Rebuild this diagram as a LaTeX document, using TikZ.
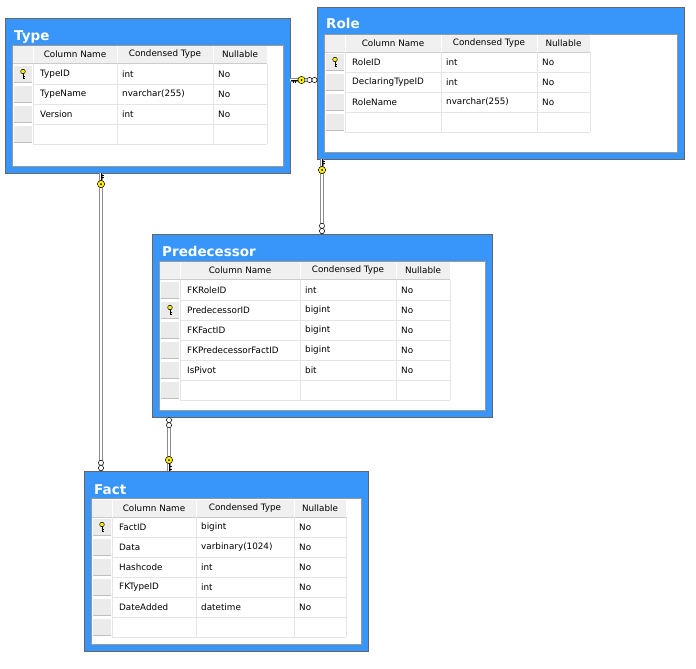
\documentclass[tikz,border=0pt]{standalone}
\usepackage{fontspec}
\setmainfont{DejaVu Sans}
\usetikzlibrary{calc}
\begin{document}
\begin{tikzpicture}[x=1pt,y=-1pt,
  tbl/.style={draw=black!60,fill=blueA,line width=0.8pt,anchor=north west,inner sep=0,outer sep=0},
  panel/.style={draw=black!40,fill=white,line width=0.8pt},
  cellline/.style={draw=black!10,line width=0.6pt},
  hdrfill/.style={fill=black!6},
  selfill/.style={fill=black!8},
  txt/.style={font=\fontsize{8.8}{9}\selectfont,inner sep=0,anchor=west},
  ttl/.style={font=\bfseries\fontsize{13.5}{14}\selectfont,text=white,inner sep=0,anchor=base west},
  connout/.style={draw=black!45,line width=3.2pt},
  connin/.style={draw=white,line width=1.4pt},
  ring/.style={draw=black,fill=white,line width=0.5pt},
  keyc/.style={draw=black,fill=yellow,line width=0.5pt}]
\definecolor{blueA}{RGB}{56,150,250}
\useasboundingbox (0,0) rectangle (696,669);
\newcommand\hdr[1]{%
  \fill[hdrfill] (\ca,#1) rectangle (\ce,#1+17);
  \draw[black!20] (\ca,#1+17)--(\ce,#1+17);
  \foreach \xx in {\cb,\cc,\cd,\ce} \draw[white,line width=1pt] (\xx,#1)--(\xx,#1+17);
  \node[txt,anchor=center] at ({(\cb+\cc)/2},#1+8.5) {Column Name};
  \node[txt,anchor=center] at ({(\cc+\cd)/2},#1+8.5) {Condensed Type};
  \node[txt,anchor=center] at ({(\cd+\ce)/2},#1+8.5) {Nullable};}
\newcommand\trow[5]{%
  \fill[selfill] (\ca+1,#1+2) rectangle (\cb-1,#1+18);
  \draw[black!25] (\ca+1,#1+18)--(\cb-1,#1+18);
  \draw[cellline] (\cb,#1+20)--(\ce,#1+20);
  \foreach \xx in {\cb,\cc,\cd,\ce} \draw[cellline] (\xx,#1)--(\xx,#1+20);
  \ifnum#2=1 \keyicon{\ca+10}{#1+10}\fi
  \node[txt] at (\cb+7,#1+10) {#3};
  \node[txt] at (\cc+5,#1+10) {#4};
  \node[txt] at (\cd+5,#1+10) {#5};}
\newcommand\keyicon[2]{%
  \draw[black,line width=0.5pt] (#1,#2-1)--(#1,#2+5) (#1,#2+2)--(#1+1.5,#2+2) (#1,#2+4)--(#1+1.5,#2+4);
  \draw[keyc] (#1,#2-2.5) circle (2.3);}
\newcommand\vkey[3]{%
  \draw[black,line width=0.6pt] (#1,#2)--(#1,#2+#3*7) (#1,#2+#3*2)--(#1+2.5,#2+#3*2) (#1,#2+#3*4.5)--(#1+2.5,#2+#3*4.5);
  \draw[keyc] (#1,#2+#3*11) circle (3.6);
  \fill[black] (#1,#2+#3*11) circle (1);}
\newcommand\vrings[3]{%
  \draw[ring] (#1,#2+#3*3) circle (2.6);
  \draw[ring] (#1,#2+#3*8.2) circle (2.6);}
% ---------- Type
\node[tbl,minimum width=285,minimum height=155] (type) at (5,18) {};
\draw[panel] (12,45) rectangle (283,166);
\node[ttl] (typet) at (14,41) {Type};
\def\ca{13}\def\cb{33}\def\cc{117}\def\cd{213}\def\ce{267}
\hdr{46}
\trow{64}{1}{TypeID}{int}{No}
\trow{84}{0}{TypeName}{nvarchar(255)}{No}
\trow{104}{0}{Version}{int}{No}
\trow{124}{0}{}{}{}
% ---------- Role
\node[tbl,minimum width=367,minimum height=152] (role) at (317,7) {};
\draw[panel] (324,34) rectangle (677,152);
\node[ttl] (rolet) at (326,29) {Role};
\def\ca{325}\def\cb{345}\def\cc{441}\def\cd{537}\def\ce{590}
\hdr{35}
\trow{52}{1}{RoleID}{int}{No}
\trow{72}{0}{DeclaringTypeID}{int}{No}
\trow{92}{0}{RoleName}{nvarchar(255)}{No}
\trow{112}{0}{}{}{}
% ---------- Predecessor
\node[tbl,minimum width=340,minimum height=183] (pred) at (152,234) {};
\draw[panel] (159,261) rectangle (485,410);
\node[ttl] (predt) at (162,256) {Predecessor};
\def\ca{160}\def\cb{180}\def\cc{300}\def\cd{396}\def\ce{450}
\hdr{262}
\trow{280}{0}{FKRoleID}{int}{No}
\trow{300}{1}{PredecessorID}{bigint}{No}
\trow{320}{0}{FKFactID}{bigint}{No}
\trow{340}{0}{FKPredecessorFactID}{bigint}{No}
\trow{360}{0}{IsPivot}{bit}{No}
\trow{380}{0}{}{}{}
% ---------- Fact
\node[tbl,minimum width=284,minimum height=180] (fact) at (84,471) {};
\draw[panel] (91,498) rectangle (361,644);
\node[ttl] (factt) at (94,494) {Fact};
\def\ca{92}\def\cb{112}\def\cc{196}\def\cd{294}\def\ce{346}
\hdr{500}
\trow{517}{1}{FactID}{bigint}{No}
\trow{537}{0}{Data}{varbinary(1024)}{No}
\trow{557}{0}{Hashcode}{int}{No}
\trow{577}{0}{FKTypeID}{int}{No}
\trow{597}{0}{DateAdded}{datetime}{No}
\trow{617}{0}{}{}{}
% ---------- connectors
\foreach \st in {connout,connin}{
\draw[\st] ($(type.south west)+(96,0)$) -- ($(fact.north west)+(17,0)$);
\draw[\st] ($(role.south west)+(5,0)$) -- ($(pred.north west)+(170,0)$);
\draw[\st] ($(pred.south west)+(17,0)$) -- ($(fact.north west)+(85,0)$);
\draw[\st] ($(type.north east)+(0,62)$) -- ($(role.north west)+(0,73)$);}
\vkey{101}{173}{1}\vrings{101}{471}{-1}
\vkey{322}{159}{1}\vrings{322}{234}{-1}
\vrings{169}{417}{1}\vkey{169}{471}{-1}
\draw[black,line width=0.6pt] (291,80)--(298,80) (293,80)--(293,82.5) (295.5,80)--(295.5,82.5);
\draw[keyc] (301.5,80) circle (3.6); \fill[black] (301.5,80) circle (1);
\draw[ring] (309.5,80) circle (2.6);
\draw[ring] (314.5,80) circle (2.6);
\end{tikzpicture}
\end{document}
